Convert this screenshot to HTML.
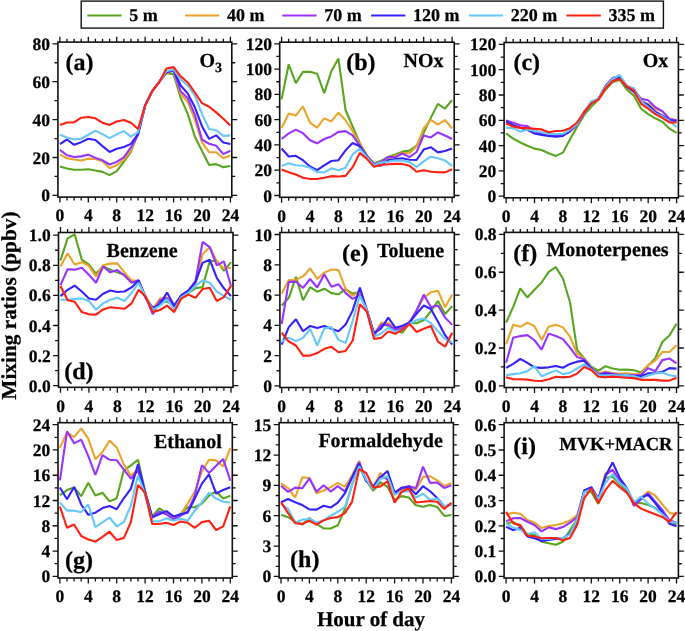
<!DOCTYPE html>
<html><head><meta charset="utf-8"><title>Diurnal mixing ratios</title>
<style>html,body{margin:0;padding:0;background:#fff;} svg text{stroke:#000;stroke-width:0.25px;paint-order:stroke;} body{width:685px;height:631px;overflow:hidden;position:relative;font-family:"Liberation Serif", serif;}</style>
</head><body>
<svg width="685" height="631" viewBox="0 0 685 631" style="position:absolute;left:0;top:0;will-change:transform" text-rendering="geometricPrecision">
<rect x="0" y="0" width="685" height="631" fill="#fff"/>
<polyline points="59.90,166.60 67.00,168.49 74.11,169.82 81.21,169.82 88.32,169.25 95.42,170.58 102.53,171.90 109.63,175.12 116.73,171.14 123.84,161.86 130.94,151.81 138.05,132.87 145.15,105.39 152.25,91.17 159.36,81.70 166.46,73.17 173.57,74.31 180.67,97.81 187.78,113.91 194.88,136.66 201.98,150.87 209.09,165.08 216.19,164.13 223.30,167.16 230.40,166.03" fill="none" stroke="#58a51f" stroke-width="2.1" stroke-linejoin="bevel" stroke-linecap="butt"/>
<polyline points="59.90,154.66 67.00,158.26 74.11,159.58 81.21,160.53 88.32,158.64 95.42,159.02 102.53,161.29 109.63,168.30 116.73,165.27 123.84,159.96 130.94,150.68 138.05,133.81 145.15,105.39 152.25,91.17 159.36,81.70 166.46,72.60 173.57,71.28 180.67,94.02 187.78,101.98 194.88,119.60 201.98,142.34 209.09,152.19 216.19,152.19 223.30,158.26 230.40,155.42" fill="none" stroke="#eba42a" stroke-width="2.1" stroke-linejoin="bevel" stroke-linecap="butt"/>
<polyline points="59.90,149.92 67.00,155.23 74.11,156.93 81.21,156.36 88.32,154.66 95.42,157.88 102.53,160.34 109.63,164.51 116.73,161.86 123.84,157.31 130.94,147.46 138.05,134.76 145.15,105.39 152.25,91.17 159.36,81.70 166.46,72.22 173.57,70.71 180.67,91.17 187.78,98.19 194.88,114.86 201.98,139.50 209.09,143.86 216.19,145.75 223.30,154.09 230.40,150.68" fill="none" stroke="#9933ff" stroke-width="2.1" stroke-linejoin="bevel" stroke-linecap="butt"/>
<polyline points="59.90,144.05 67.00,139.50 74.11,144.80 81.21,142.15 88.32,138.74 95.42,140.07 102.53,146.13 109.63,152.00 116.73,148.78 123.84,147.08 130.94,143.86 138.05,134.19 145.15,105.39 152.25,91.17 159.36,81.70 166.46,72.22 173.57,69.95 180.67,85.49 187.78,93.64 194.88,107.28 201.98,126.23 209.09,138.93 216.19,135.33 223.30,142.53 230.40,144.05" fill="none" stroke="#3322ff" stroke-width="2.1" stroke-linejoin="bevel" stroke-linecap="butt"/>
<polyline points="59.90,134.76 67.00,137.41 74.11,139.50 81.21,138.74 88.32,134.76 95.42,130.59 102.53,134.19 109.63,138.17 116.73,134.38 123.84,131.16 130.94,136.66 138.05,132.11 145.15,105.39 152.25,91.17 159.36,81.70 166.46,71.28 173.57,69.38 180.67,79.43 187.78,85.49 194.88,95.34 201.98,113.91 209.09,129.07 216.19,130.21 223.30,135.90 230.40,135.33" fill="none" stroke="#66c8fa" stroke-width="2.1" stroke-linejoin="bevel" stroke-linecap="butt"/>
<polyline points="59.90,124.91 67.00,122.44 74.11,122.44 81.21,117.70 88.32,116.95 95.42,118.27 102.53,122.82 109.63,124.91 116.73,121.50 123.84,119.98 130.94,122.82 138.05,129.07 145.15,105.39 152.25,90.80 159.36,82.08 166.46,68.44 173.57,67.11 180.67,76.39 187.78,82.46 194.88,92.50 201.98,103.11 209.09,106.71 216.19,112.40 223.30,118.84 230.40,125.47" fill="none" stroke="#ff2010" stroke-width="2.1" stroke-linejoin="bevel" stroke-linecap="butt"/>
<path d="M59.90,42.10V36.70M59.90,197.10V202.50M67.00,42.10V38.70M67.00,197.10V200.50M74.11,42.10V38.70M74.11,197.10V200.50M81.21,42.10V38.70M81.21,197.10V200.50M88.32,42.10V36.70M88.32,197.10V202.50M95.42,42.10V38.70M95.42,197.10V200.50M102.53,42.10V38.70M102.53,197.10V200.50M109.63,42.10V38.70M109.63,197.10V200.50M116.73,42.10V36.70M116.73,197.10V202.50M123.84,42.10V38.70M123.84,197.10V200.50M130.94,42.10V38.70M130.94,197.10V200.50M138.05,42.10V38.70M138.05,197.10V200.50M145.15,42.10V36.70M145.15,197.10V202.50M152.25,42.10V38.70M152.25,197.10V200.50M159.36,42.10V38.70M159.36,197.10V200.50M166.46,42.10V38.70M166.46,197.10V200.50M173.57,42.10V36.70M173.57,197.10V202.50M180.67,42.10V38.70M180.67,197.10V200.50M187.78,42.10V38.70M187.78,197.10V200.50M194.88,42.10V38.70M194.88,197.10V200.50M201.98,42.10V36.70M201.98,197.10V202.50M209.09,42.10V38.70M209.09,197.10V200.50M216.19,42.10V38.70M216.19,197.10V200.50M223.30,42.10V38.70M223.30,197.10V200.50M230.40,42.10V36.70M230.40,197.10V202.50M57.90,195.40H52.50M231.80,195.40H237.20M57.90,176.45H54.50M231.80,176.45H235.20M57.90,157.50H52.50M231.80,157.50H237.20M57.90,138.55H54.50M231.80,138.55H235.20M57.90,119.60H52.50M231.80,119.60H237.20M57.90,100.65H54.50M231.80,100.65H235.20M57.90,81.70H52.50M231.80,81.70H237.20M57.90,62.75H54.50M231.80,62.75H235.20M57.90,43.80H52.50M231.80,43.80H237.20" stroke="#111" stroke-width="1.3" fill="none"/>
<rect x="57.90" y="42.10" width="173.90" height="155.00" fill="none" stroke="#111" stroke-width="1.6"/>
<text x="50.10" y="201.40" text-anchor="end" font-family='"Liberation Serif", serif' font-weight="bold" font-size="17.5">0</text>
<text x="50.10" y="163.50" text-anchor="end" font-family='"Liberation Serif", serif' font-weight="bold" font-size="17.5">20</text>
<text x="50.10" y="125.60" text-anchor="end" font-family='"Liberation Serif", serif' font-weight="bold" font-size="17.5">40</text>
<text x="50.10" y="87.70" text-anchor="end" font-family='"Liberation Serif", serif' font-weight="bold" font-size="17.5">60</text>
<text x="50.10" y="49.80" text-anchor="end" font-family='"Liberation Serif", serif' font-weight="bold" font-size="17.5">80</text>
<text x="59.90" y="221.30" text-anchor="middle" font-family='"Liberation Serif", serif' font-weight="bold" font-size="17.5">0</text>
<text x="88.32" y="221.30" text-anchor="middle" font-family='"Liberation Serif", serif' font-weight="bold" font-size="17.5">4</text>
<text x="116.73" y="221.30" text-anchor="middle" font-family='"Liberation Serif", serif' font-weight="bold" font-size="17.5">8</text>
<text x="145.15" y="221.30" text-anchor="middle" font-family='"Liberation Serif", serif' font-weight="bold" font-size="17.5">12</text>
<text x="173.57" y="221.30" text-anchor="middle" font-family='"Liberation Serif", serif' font-weight="bold" font-size="17.5">16</text>
<text x="201.98" y="221.30" text-anchor="middle" font-family='"Liberation Serif", serif' font-weight="bold" font-size="17.5">20</text>
<text x="230.40" y="221.30" text-anchor="middle" font-family='"Liberation Serif", serif' font-weight="bold" font-size="17.5">24</text>
<polyline points="281.60,99.30 288.70,64.28 295.81,83.12 302.91,71.86 310.02,71.86 317.12,73.76 324.23,93.10 331.33,71.36 338.43,58.59 345.54,110.04 352.64,126.48 359.75,142.91 366.85,155.68 373.95,163.52 381.06,160.74 388.16,157.07 395.27,154.41 402.37,151.63 409.48,150.62 416.58,145.69 423.68,132.80 430.79,117.88 437.89,103.85 445.00,108.53 452.10,100.06" fill="none" stroke="#58a51f" stroke-width="2.1" stroke-linejoin="bevel" stroke-linecap="butt"/>
<polyline points="281.60,128.12 288.70,113.46 295.81,115.60 302.91,106.38 310.02,122.68 317.12,127.61 324.23,118.39 331.33,121.42 338.43,112.70 345.54,120.28 352.64,131.15 359.75,143.54 366.85,155.68 373.95,163.90 381.06,162.00 388.16,158.21 395.27,155.93 402.37,152.90 409.48,153.28 416.58,146.32 423.68,128.50 430.79,119.78 437.89,124.58 445.00,120.03 452.10,128.25" fill="none" stroke="#eba42a" stroke-width="2.1" stroke-linejoin="bevel" stroke-linecap="butt"/>
<polyline points="281.60,138.99 288.70,133.43 295.81,129.64 302.91,133.18 310.02,140.26 317.12,143.29 324.23,138.99 331.33,136.46 338.43,131.91 345.54,131.15 352.64,135.33 359.75,145.69 366.85,156.31 373.95,164.28 381.06,162.00 388.16,156.82 395.27,157.32 402.37,153.53 409.48,157.07 416.58,152.01 423.68,135.45 430.79,137.47 437.89,132.42 445.00,135.45 452.10,138.99" fill="none" stroke="#9933ff" stroke-width="2.1" stroke-linejoin="bevel" stroke-linecap="butt"/>
<polyline points="281.60,148.47 288.70,156.44 295.81,155.81 302.91,160.23 310.02,166.55 317.12,170.22 324.23,165.29 331.33,160.99 338.43,160.23 345.54,150.37 352.64,143.04 359.75,146.32 366.85,156.31 373.95,164.28 381.06,165.67 388.16,159.98 395.27,158.97 402.37,158.33 409.48,159.72 416.58,159.98 423.68,149.61 430.79,147.21 437.89,152.39 445.00,151.00 452.10,148.60" fill="none" stroke="#3322ff" stroke-width="2.1" stroke-linejoin="bevel" stroke-linecap="butt"/>
<polyline points="281.60,165.92 288.70,163.26 295.81,165.29 302.91,165.79 310.02,167.81 317.12,171.99 324.23,172.24 331.33,168.32 338.43,170.22 345.54,167.81 352.64,154.41 359.75,148.73 366.85,157.07 373.95,165.03 381.06,162.63 388.16,161.75 395.27,160.36 402.37,160.61 409.48,162.13 416.58,166.80 423.68,161.37 430.79,156.69 437.89,158.33 445.00,160.61 452.10,165.92" fill="none" stroke="#66c8fa" stroke-width="2.1" stroke-linejoin="bevel" stroke-linecap="butt"/>
<polyline points="281.60,169.46 288.70,172.24 295.81,174.51 302.91,177.80 310.02,179.07 317.12,179.07 324.23,177.80 331.33,176.16 338.43,176.54 345.54,175.91 352.64,167.18 359.75,152.90 366.85,158.84 373.95,166.80 381.06,165.03 388.16,164.28 395.27,163.90 402.37,163.90 409.48,165.67 416.58,171.73 423.68,170.34 430.79,171.73 437.89,172.11 445.00,172.37 452.10,169.33" fill="none" stroke="#ff2010" stroke-width="2.1" stroke-linejoin="bevel" stroke-linecap="butt"/>
<path d="M281.60,42.20V36.80M281.60,197.30V202.70M288.70,42.20V38.80M288.70,197.30V200.70M295.81,42.20V38.80M295.81,197.30V200.70M302.91,42.20V38.80M302.91,197.30V200.70M310.02,42.20V36.80M310.02,197.30V202.70M317.12,42.20V38.80M317.12,197.30V200.70M324.23,42.20V38.80M324.23,197.30V200.70M331.33,42.20V38.80M331.33,197.30V200.70M338.43,42.20V36.80M338.43,197.30V202.70M345.54,42.20V38.80M345.54,197.30V200.70M352.64,42.20V38.80M352.64,197.30V200.70M359.75,42.20V38.80M359.75,197.30V200.70M366.85,42.20V36.80M366.85,197.30V202.70M373.95,42.20V38.80M373.95,197.30V200.70M381.06,42.20V38.80M381.06,197.30V200.70M388.16,42.20V38.80M388.16,197.30V200.70M395.27,42.20V36.80M395.27,197.30V202.70M402.37,42.20V38.80M402.37,197.30V200.70M409.48,42.20V38.80M409.48,197.30V200.70M416.58,42.20V38.80M416.58,197.30V200.70M423.68,42.20V36.80M423.68,197.30V202.70M430.79,42.20V38.80M430.79,197.30V200.70M437.89,42.20V38.80M437.89,197.30V200.70M445.00,42.20V38.80M445.00,197.30V200.70M452.10,42.20V36.80M452.10,197.30V202.70M279.70,195.50H274.30M454.20,195.50H459.60M279.70,182.86H276.30M454.20,182.86H457.60M279.70,170.22H274.30M454.20,170.22H459.60M279.70,157.57H276.30M454.20,157.57H457.60M279.70,144.93H274.30M454.20,144.93H459.60M279.70,132.29H276.30M454.20,132.29H457.60M279.70,119.65H274.30M454.20,119.65H459.60M279.70,107.01H276.30M454.20,107.01H457.60M279.70,94.37H274.30M454.20,94.37H459.60M279.70,81.73H276.30M454.20,81.73H457.60M279.70,69.08H274.30M454.20,69.08H459.60M279.70,56.44H276.30M454.20,56.44H457.60M279.70,43.80H274.30M454.20,43.80H459.60" stroke="#111" stroke-width="1.3" fill="none"/>
<rect x="279.70" y="42.20" width="174.50" height="155.10" fill="none" stroke="#111" stroke-width="1.6"/>
<text x="271.90" y="201.50" text-anchor="end" font-family='"Liberation Serif", serif' font-weight="bold" font-size="17.5">0</text>
<text x="271.90" y="176.22" text-anchor="end" font-family='"Liberation Serif", serif' font-weight="bold" font-size="17.5">20</text>
<text x="271.90" y="150.93" text-anchor="end" font-family='"Liberation Serif", serif' font-weight="bold" font-size="17.5">40</text>
<text x="271.90" y="125.65" text-anchor="end" font-family='"Liberation Serif", serif' font-weight="bold" font-size="17.5">60</text>
<text x="271.90" y="100.37" text-anchor="end" font-family='"Liberation Serif", serif' font-weight="bold" font-size="17.5">80</text>
<text x="271.90" y="75.08" text-anchor="end" font-family='"Liberation Serif", serif' font-weight="bold" font-size="17.5">100</text>
<text x="271.90" y="49.80" text-anchor="end" font-family='"Liberation Serif", serif' font-weight="bold" font-size="17.5">120</text>
<text x="281.60" y="221.50" text-anchor="middle" font-family='"Liberation Serif", serif' font-weight="bold" font-size="17.5">0</text>
<text x="310.02" y="221.50" text-anchor="middle" font-family='"Liberation Serif", serif' font-weight="bold" font-size="17.5">4</text>
<text x="338.43" y="221.50" text-anchor="middle" font-family='"Liberation Serif", serif' font-weight="bold" font-size="17.5">8</text>
<text x="366.85" y="221.50" text-anchor="middle" font-family='"Liberation Serif", serif' font-weight="bold" font-size="17.5">12</text>
<text x="395.27" y="221.50" text-anchor="middle" font-family='"Liberation Serif", serif' font-weight="bold" font-size="17.5">16</text>
<text x="423.68" y="221.50" text-anchor="middle" font-family='"Liberation Serif", serif' font-weight="bold" font-size="17.5">20</text>
<text x="452.10" y="221.50" text-anchor="middle" font-family='"Liberation Serif", serif' font-weight="bold" font-size="17.5">24</text>
<polyline points="506.10,133.46 513.20,138.63 520.31,142.54 527.41,145.69 534.52,148.60 541.62,149.99 548.73,153.27 555.83,155.91 562.93,152.63 570.04,139.26 577.14,126.64 584.25,114.91 591.35,106.46 598.45,99.64 605.56,89.67 612.66,81.98 619.77,79.96 626.87,89.67 633.98,95.73 641.08,108.73 648.18,114.15 655.29,118.31 662.39,121.84 669.50,128.66 676.60,132.95" fill="none" stroke="#58a51f" stroke-width="2.1" stroke-linejoin="bevel" stroke-linecap="butt"/>
<polyline points="506.10,121.60 513.20,124.75 520.31,127.27 527.41,129.17 534.52,132.95 541.62,134.22 548.73,136.10 555.83,135.73 562.93,134.85 570.04,131.69 577.14,124.75 584.25,112.76 591.35,103.30 598.45,99.52 605.56,86.90 612.66,79.34 619.77,77.44 626.87,86.27 633.98,91.32 641.08,101.16 648.18,103.93 655.29,108.98 662.39,111.51 669.50,118.44 676.60,120.34" fill="none" stroke="#eba42a" stroke-width="2.1" stroke-linejoin="bevel" stroke-linecap="butt"/>
<polyline points="506.10,120.46 513.20,122.73 520.31,125.26 527.41,126.14 534.52,131.07 541.62,133.46 548.73,134.85 555.83,135.97 562.93,134.85 570.04,131.07 577.14,124.75 584.25,112.14 591.35,102.68 598.45,98.88 605.56,85.89 612.66,77.82 619.77,76.68 626.87,85.89 633.98,89.67 641.08,98.88 648.18,100.28 655.29,107.22 662.39,111.13 669.50,119.20 676.60,120.21" fill="none" stroke="#9933ff" stroke-width="2.1" stroke-linejoin="bevel" stroke-linecap="butt"/>
<polyline points="506.10,121.48 513.20,125.13 520.31,127.65 527.41,129.93 534.52,133.46 541.62,134.85 548.73,135.86 555.83,136.73 562.93,135.97 570.04,131.07 577.14,124.12 584.25,112.14 591.35,102.68 598.45,98.88 605.56,86.27 612.66,79.34 619.77,77.44 626.87,86.90 633.98,91.95 641.08,101.16 648.18,104.94 655.29,111.76 662.39,115.67 669.50,120.21 676.60,120.97" fill="none" stroke="#3322ff" stroke-width="2.1" stroke-linejoin="bevel" stroke-linecap="butt"/>
<polyline points="506.10,127.65 513.20,128.16 520.31,131.69 527.41,129.42 534.52,131.07 541.62,132.32 548.73,133.96 555.83,133.96 562.93,133.96 570.04,129.80 577.14,124.12 584.25,111.51 591.35,101.16 598.45,98.88 605.56,86.90 612.66,78.96 619.77,75.04 626.87,85.89 633.98,88.17 641.08,101.16 648.18,107.22 655.29,113.39 662.39,116.56 669.50,120.97 676.60,127.14" fill="none" stroke="#66c8fa" stroke-width="2.1" stroke-linejoin="bevel" stroke-linecap="butt"/>
<polyline points="506.10,123.49 513.20,126.51 520.31,127.90 527.41,128.16 534.52,128.79 541.62,129.42 548.73,132.32 555.83,131.07 562.93,130.81 570.04,128.16 577.14,122.48 584.25,111.76 591.35,103.42 598.45,99.64 605.56,88.17 612.66,80.97 619.77,78.96 626.87,86.52 633.98,90.43 641.08,103.80 648.18,108.73 655.29,114.15 662.39,117.93 669.50,122.48 676.60,122.48" fill="none" stroke="#ff2010" stroke-width="2.1" stroke-linejoin="bevel" stroke-linecap="butt"/>
<path d="M506.10,42.50V37.10M506.10,197.80V203.20M513.20,42.50V39.10M513.20,197.80V201.20M520.31,42.50V39.10M520.31,197.80V201.20M527.41,42.50V39.10M527.41,197.80V201.20M534.52,42.50V37.10M534.52,197.80V203.20M541.62,42.50V39.10M541.62,197.80V201.20M548.73,42.50V39.10M548.73,197.80V201.20M555.83,42.50V39.10M555.83,197.80V201.20M562.93,42.50V37.10M562.93,197.80V203.20M570.04,42.50V39.10M570.04,197.80V201.20M577.14,42.50V39.10M577.14,197.80V201.20M584.25,42.50V39.10M584.25,197.80V201.20M591.35,42.50V37.10M591.35,197.80V203.20M598.45,42.50V39.10M598.45,197.80V201.20M605.56,42.50V39.10M605.56,197.80V201.20M612.66,42.50V39.10M612.66,197.80V201.20M619.77,42.50V37.10M619.77,197.80V203.20M626.87,42.50V39.10M626.87,197.80V201.20M633.98,42.50V39.10M633.98,197.80V201.20M641.08,42.50V39.10M641.08,197.80V201.20M648.18,42.50V37.10M648.18,197.80V203.20M655.29,42.50V39.10M655.29,197.80V201.20M662.39,42.50V39.10M662.39,197.80V201.20M669.50,42.50V39.10M669.50,197.80V201.20M676.60,42.50V37.10M676.60,197.80V203.20M504.10,196.20H498.70M678.40,196.20H683.80M504.10,183.55H500.70M678.40,183.55H681.80M504.10,170.90H498.70M678.40,170.90H683.80M504.10,158.25H500.70M678.40,158.25H681.80M504.10,145.60H498.70M678.40,145.60H683.80M504.10,132.95H500.70M678.40,132.95H681.80M504.10,120.30H498.70M678.40,120.30H683.80M504.10,107.65H500.70M678.40,107.65H681.80M504.10,95.00H498.70M678.40,95.00H683.80M504.10,82.35H500.70M678.40,82.35H681.80M504.10,69.70H498.70M678.40,69.70H683.80M504.10,57.05H500.70M678.40,57.05H681.80M504.10,44.40H498.70M678.40,44.40H683.80" stroke="#111" stroke-width="1.3" fill="none"/>
<rect x="504.10" y="42.50" width="174.30" height="155.30" fill="none" stroke="#111" stroke-width="1.6"/>
<text x="496.30" y="202.20" text-anchor="end" font-family='"Liberation Serif", serif' font-weight="bold" font-size="17.5">0</text>
<text x="496.30" y="176.90" text-anchor="end" font-family='"Liberation Serif", serif' font-weight="bold" font-size="17.5">20</text>
<text x="496.30" y="151.60" text-anchor="end" font-family='"Liberation Serif", serif' font-weight="bold" font-size="17.5">40</text>
<text x="496.30" y="126.30" text-anchor="end" font-family='"Liberation Serif", serif' font-weight="bold" font-size="17.5">60</text>
<text x="496.30" y="101.00" text-anchor="end" font-family='"Liberation Serif", serif' font-weight="bold" font-size="17.5">80</text>
<text x="496.30" y="75.70" text-anchor="end" font-family='"Liberation Serif", serif' font-weight="bold" font-size="17.5">100</text>
<text x="496.30" y="50.40" text-anchor="end" font-family='"Liberation Serif", serif' font-weight="bold" font-size="17.5">120</text>
<text x="506.10" y="222.00" text-anchor="middle" font-family='"Liberation Serif", serif' font-weight="bold" font-size="17.5">0</text>
<text x="534.52" y="222.00" text-anchor="middle" font-family='"Liberation Serif", serif' font-weight="bold" font-size="17.5">4</text>
<text x="562.93" y="222.00" text-anchor="middle" font-family='"Liberation Serif", serif' font-weight="bold" font-size="17.5">8</text>
<text x="591.35" y="222.00" text-anchor="middle" font-family='"Liberation Serif", serif' font-weight="bold" font-size="17.5">12</text>
<text x="619.77" y="222.00" text-anchor="middle" font-family='"Liberation Serif", serif' font-weight="bold" font-size="17.5">16</text>
<text x="648.18" y="222.00" text-anchor="middle" font-family='"Liberation Serif", serif' font-weight="bold" font-size="17.5">20</text>
<text x="676.60" y="222.00" text-anchor="middle" font-family='"Liberation Serif", serif' font-weight="bold" font-size="17.5">24</text>
<polyline points="60.50,260.48 67.60,238.36 74.71,234.45 81.81,259.73 88.92,264.55 96.02,273.58 103.12,266.50 110.23,269.66 117.33,272.37 124.44,274.78 131.54,281.10 138.65,281.86 145.75,297.06 152.85,308.04 159.96,300.97 167.06,301.72 174.17,304.88 181.27,297.06 188.38,292.99 195.48,288.33 202.58,287.12 209.69,261.39 216.79,260.48 223.90,270.87 231.00,262.14" fill="none" stroke="#58a51f" stroke-width="2.1" stroke-linejoin="bevel" stroke-linecap="butt"/>
<polyline points="60.50,266.50 67.60,253.41 74.71,264.55 81.81,262.14 88.92,266.05 96.02,276.44 103.12,265.30 110.23,263.64 117.33,263.34 124.44,272.37 131.54,280.35 138.65,281.10 145.75,297.06 152.85,308.79 159.96,298.56 167.06,297.36 174.17,305.63 181.27,295.40 188.38,291.49 195.48,284.26 202.58,254.16 209.69,247.09 216.79,261.39 223.90,268.46 231.00,267.71" fill="none" stroke="#eba42a" stroke-width="2.1" stroke-linejoin="bevel" stroke-linecap="butt"/>
<polyline points="60.50,285.17 67.60,269.21 74.71,269.66 81.81,267.71 88.92,274.78 96.02,282.76 103.12,266.50 110.23,272.37 117.33,270.12 124.44,275.53 131.54,282.76 138.65,280.35 145.75,297.06 152.85,314.36 159.96,300.22 167.06,298.26 174.17,306.54 181.27,295.40 188.38,290.58 195.48,281.10 202.58,241.82 209.69,247.09 216.79,265.30 223.90,261.39 231.00,285.92" fill="none" stroke="#9933ff" stroke-width="2.1" stroke-linejoin="bevel" stroke-linecap="butt"/>
<polyline points="60.50,296.15 67.60,289.83 74.71,285.62 81.81,291.49 88.92,298.56 96.02,299.76 103.12,293.74 110.23,290.58 117.33,291.94 124.44,291.49 131.54,287.42 138.65,280.35 145.75,298.41 152.85,308.04 159.96,304.13 167.06,292.54 174.17,305.63 181.27,295.40 188.38,290.58 195.48,282.01 202.58,262.89 209.69,259.73 216.79,277.94 223.90,288.33 231.00,296.15" fill="none" stroke="#3322ff" stroke-width="2.1" stroke-linejoin="bevel" stroke-linecap="butt"/>
<polyline points="60.50,299.76 67.60,299.76 74.71,298.86 81.81,298.56 88.92,300.97 96.02,309.70 103.12,303.38 110.23,299.76 117.33,297.81 124.44,300.97 131.54,292.99 138.65,282.76 145.75,297.06 152.85,309.70 159.96,305.63 167.06,299.31 174.17,309.70 181.27,297.06 188.38,292.99 195.48,285.92 202.58,280.35 209.69,282.76 216.79,291.49 223.90,296.15 231.00,299.76" fill="none" stroke="#66c8fa" stroke-width="2.1" stroke-linejoin="bevel" stroke-linecap="butt"/>
<polyline points="60.50,285.92 67.60,300.22 74.71,301.72 81.81,312.11 88.92,314.36 96.02,314.66 103.12,309.40 110.23,307.29 117.33,308.04 124.44,308.79 131.54,303.38 138.65,289.83 145.75,297.06 152.85,312.11 159.96,310.00 167.06,305.63 174.17,312.11 181.27,298.56 188.38,294.65 195.48,297.81 202.58,289.08 209.69,287.72 216.79,300.97 223.90,297.06 231.00,285.92" fill="none" stroke="#ff2010" stroke-width="2.1" stroke-linejoin="bevel" stroke-linecap="butt"/>
<path d="M60.50,232.50V227.10M60.50,387.30V392.70M67.60,232.50V229.10M67.60,387.30V390.70M74.71,232.50V229.10M74.71,387.30V390.70M81.81,232.50V229.10M81.81,387.30V390.70M88.92,232.50V227.10M88.92,387.30V392.70M96.02,232.50V229.10M96.02,387.30V390.70M103.12,232.50V229.10M103.12,387.30V390.70M110.23,232.50V229.10M110.23,387.30V390.70M117.33,232.50V227.10M117.33,387.30V392.70M124.44,232.50V229.10M124.44,387.30V390.70M131.54,232.50V229.10M131.54,387.30V390.70M138.65,232.50V229.10M138.65,387.30V390.70M145.75,232.50V227.10M145.75,387.30V392.70M152.85,232.50V229.10M152.85,387.30V390.70M159.96,232.50V229.10M159.96,387.30V390.70M167.06,232.50V229.10M167.06,387.30V390.70M174.17,232.50V227.10M174.17,387.30V392.70M181.27,232.50V229.10M181.27,387.30V390.70M188.38,232.50V229.10M188.38,387.30V390.70M195.48,232.50V229.10M195.48,387.30V390.70M202.58,232.50V227.10M202.58,387.30V392.70M209.69,232.50V229.10M209.69,387.30V390.70M216.79,232.50V229.10M216.79,387.30V390.70M223.90,232.50V229.10M223.90,387.30V390.70M231.00,232.50V227.10M231.00,387.30V392.70M58.50,385.70H53.10M233.00,385.70H238.40M58.50,370.65H55.10M233.00,370.65H236.40M58.50,355.60H53.10M233.00,355.60H238.40M58.50,340.55H55.10M233.00,340.55H236.40M58.50,325.50H53.10M233.00,325.50H238.40M58.50,310.45H55.10M233.00,310.45H236.40M58.50,295.40H53.10M233.00,295.40H238.40M58.50,280.35H55.10M233.00,280.35H236.40M58.50,265.30H53.10M233.00,265.30H238.40M58.50,250.25H55.10M233.00,250.25H236.40M58.50,235.20H53.10M233.00,235.20H238.40" stroke="#111" stroke-width="1.3" fill="none"/>
<rect x="58.50" y="232.50" width="174.50" height="154.80" fill="none" stroke="#111" stroke-width="1.6"/>
<text x="50.70" y="391.70" text-anchor="end" font-family='"Liberation Serif", serif' font-weight="bold" font-size="17.5">0.0</text>
<text x="50.70" y="361.60" text-anchor="end" font-family='"Liberation Serif", serif' font-weight="bold" font-size="17.5">0.2</text>
<text x="50.70" y="331.50" text-anchor="end" font-family='"Liberation Serif", serif' font-weight="bold" font-size="17.5">0.4</text>
<text x="50.70" y="301.40" text-anchor="end" font-family='"Liberation Serif", serif' font-weight="bold" font-size="17.5">0.6</text>
<text x="50.70" y="271.30" text-anchor="end" font-family='"Liberation Serif", serif' font-weight="bold" font-size="17.5">0.8</text>
<text x="50.70" y="241.20" text-anchor="end" font-family='"Liberation Serif", serif' font-weight="bold" font-size="17.5">1.0</text>
<text x="60.50" y="411.70" text-anchor="middle" font-family='"Liberation Serif", serif' font-weight="bold" font-size="17.5">0</text>
<text x="88.92" y="411.70" text-anchor="middle" font-family='"Liberation Serif", serif' font-weight="bold" font-size="17.5">4</text>
<text x="117.33" y="411.70" text-anchor="middle" font-family='"Liberation Serif", serif' font-weight="bold" font-size="17.5">8</text>
<text x="145.75" y="411.70" text-anchor="middle" font-family='"Liberation Serif", serif' font-weight="bold" font-size="17.5">12</text>
<text x="174.17" y="411.70" text-anchor="middle" font-family='"Liberation Serif", serif' font-weight="bold" font-size="17.5">16</text>
<text x="202.58" y="411.70" text-anchor="middle" font-family='"Liberation Serif", serif' font-weight="bold" font-size="17.5">20</text>
<text x="231.00" y="411.70" text-anchor="middle" font-family='"Liberation Serif", serif' font-weight="bold" font-size="17.5">24</text>
<polyline points="281.70,305.51 288.80,297.79 295.91,276.89 303.01,300.21 310.12,287.19 317.22,291.73 324.32,288.70 331.43,293.09 338.53,294.30 345.64,289.16 352.74,293.55 359.85,292.03 366.95,310.20 374.05,333.52 381.16,324.58 388.26,325.64 395.37,329.58 402.47,332.76 409.57,322.92 416.68,323.22 423.78,320.04 430.89,311.26 437.99,300.96 445.10,313.99 452.20,306.11" fill="none" stroke="#58a51f" stroke-width="2.1" stroke-linejoin="bevel" stroke-linecap="butt"/>
<polyline points="281.70,293.85 288.80,280.07 295.91,280.07 303.01,276.44 310.12,268.41 317.22,279.01 324.32,272.65 331.43,269.47 338.53,270.08 345.64,289.16 352.74,295.82 359.85,291.43 366.95,310.20 374.05,334.42 381.16,322.92 388.26,323.22 395.37,328.37 402.47,327.16 409.57,321.71 416.68,309.75 423.78,297.79 430.89,292.33 437.99,290.67 445.10,307.32 452.20,294.61" fill="none" stroke="#eba42a" stroke-width="2.1" stroke-linejoin="bevel" stroke-linecap="butt"/>
<polyline points="281.70,323.98 288.80,281.89 295.91,281.59 303.01,287.94 310.12,279.01 317.22,287.49 324.32,274.32 331.43,286.73 338.53,284.31 345.64,293.09 352.74,298.85 359.85,295.06 366.95,310.20 374.05,335.18 381.16,324.89 388.26,324.89 395.37,329.58 402.47,328.37 409.57,322.46 416.68,310.50 423.78,294.61 430.89,307.32 437.99,305.51 445.10,317.62 452.20,324.89" fill="none" stroke="#9933ff" stroke-width="2.1" stroke-linejoin="bevel" stroke-linecap="butt"/>
<polyline points="281.70,344.72 288.80,327.16 295.91,319.28 303.01,331.24 310.12,325.95 317.22,328.07 324.32,326.10 331.43,328.82 338.53,331.24 345.64,324.58 352.74,310.35 359.85,287.64 366.95,310.20 374.05,333.21 381.16,328.37 388.26,317.62 395.37,327.76 402.47,325.64 409.57,322.46 416.68,313.68 423.78,305.51 430.89,308.99 437.99,321.71 445.10,335.18 452.20,344.72" fill="none" stroke="#3322ff" stroke-width="2.1" stroke-linejoin="bevel" stroke-linecap="butt"/>
<polyline points="281.70,341.54 288.80,337.60 295.91,341.09 303.01,337.91 310.12,328.82 317.22,345.48 324.32,328.37 331.43,327.16 338.53,339.87 345.64,343.05 352.74,320.80 359.85,295.82 366.95,310.20 374.05,336.54 381.16,333.52 388.26,327.76 395.37,332.00 402.47,329.58 409.57,323.98 416.68,320.04 423.78,318.53 430.89,323.22 437.99,331.24 445.10,339.12 452.20,342.30" fill="none" stroke="#66c8fa" stroke-width="2.1" stroke-linejoin="bevel" stroke-linecap="butt"/>
<polyline points="281.70,332.76 288.80,341.54 295.91,345.48 303.01,355.62 310.12,355.62 317.22,353.05 324.32,348.81 331.43,346.84 338.53,352.29 345.64,350.93 352.74,340.48 359.85,304.30 366.95,311.71 374.05,338.97 381.16,337.91 388.26,331.55 395.37,333.82 402.47,329.58 409.57,323.98 416.68,332.00 423.78,328.82 430.89,325.95 437.99,341.54 445.10,346.69 452.20,332.76" fill="none" stroke="#ff2010" stroke-width="2.1" stroke-linejoin="bevel" stroke-linecap="butt"/>
<path d="M281.70,232.50V227.10M281.70,387.50V392.90M288.80,232.50V229.10M288.80,387.50V390.90M295.91,232.50V229.10M295.91,387.50V390.90M303.01,232.50V229.10M303.01,387.50V390.90M310.12,232.50V227.10M310.12,387.50V392.90M317.22,232.50V229.10M317.22,387.50V390.90M324.32,232.50V229.10M324.32,387.50V390.90M331.43,232.50V229.10M331.43,387.50V390.90M338.53,232.50V227.10M338.53,387.50V392.90M345.64,232.50V229.10M345.64,387.50V390.90M352.74,232.50V229.10M352.74,387.50V390.90M359.85,232.50V229.10M359.85,387.50V390.90M366.95,232.50V227.10M366.95,387.50V392.90M374.05,232.50V229.10M374.05,387.50V390.90M381.16,232.50V229.10M381.16,387.50V390.90M388.26,232.50V229.10M388.26,387.50V390.90M395.37,232.50V227.10M395.37,387.50V392.90M402.47,232.50V229.10M402.47,387.50V390.90M409.57,232.50V229.10M409.57,387.50V390.90M416.68,232.50V229.10M416.68,387.50V390.90M423.78,232.50V227.10M423.78,387.50V392.90M430.89,232.50V229.10M430.89,387.50V390.90M437.99,232.50V229.10M437.99,387.50V390.90M445.10,232.50V229.10M445.10,387.50V390.90M452.20,232.50V227.10M452.20,387.50V392.90M279.90,385.90H274.50M454.30,385.90H459.70M279.90,370.76H276.50M454.30,370.76H457.70M279.90,355.62H274.50M454.30,355.62H459.70M279.90,340.48H276.50M454.30,340.48H457.70M279.90,325.34H274.50M454.30,325.34H459.70M279.90,310.20H276.50M454.30,310.20H457.70M279.90,295.06H274.50M454.30,295.06H459.70M279.90,279.92H276.50M454.30,279.92H457.70M279.90,264.78H274.50M454.30,264.78H459.70M279.90,249.64H276.50M454.30,249.64H457.70M279.90,234.50H274.50M454.30,234.50H459.70" stroke="#111" stroke-width="1.3" fill="none"/>
<rect x="279.90" y="232.50" width="174.40" height="155.00" fill="none" stroke="#111" stroke-width="1.6"/>
<text x="272.10" y="391.90" text-anchor="end" font-family='"Liberation Serif", serif' font-weight="bold" font-size="17.5">0</text>
<text x="272.10" y="361.62" text-anchor="end" font-family='"Liberation Serif", serif' font-weight="bold" font-size="17.5">2</text>
<text x="272.10" y="331.34" text-anchor="end" font-family='"Liberation Serif", serif' font-weight="bold" font-size="17.5">4</text>
<text x="272.10" y="301.06" text-anchor="end" font-family='"Liberation Serif", serif' font-weight="bold" font-size="17.5">6</text>
<text x="272.10" y="270.78" text-anchor="end" font-family='"Liberation Serif", serif' font-weight="bold" font-size="17.5">8</text>
<text x="272.10" y="240.50" text-anchor="end" font-family='"Liberation Serif", serif' font-weight="bold" font-size="17.5">10</text>
<text x="281.70" y="411.90" text-anchor="middle" font-family='"Liberation Serif", serif' font-weight="bold" font-size="17.5">0</text>
<text x="310.12" y="411.90" text-anchor="middle" font-family='"Liberation Serif", serif' font-weight="bold" font-size="17.5">4</text>
<text x="338.53" y="411.90" text-anchor="middle" font-family='"Liberation Serif", serif' font-weight="bold" font-size="17.5">8</text>
<text x="366.95" y="411.90" text-anchor="middle" font-family='"Liberation Serif", serif' font-weight="bold" font-size="17.5">12</text>
<text x="395.37" y="411.90" text-anchor="middle" font-family='"Liberation Serif", serif' font-weight="bold" font-size="17.5">16</text>
<text x="423.78" y="411.90" text-anchor="middle" font-family='"Liberation Serif", serif' font-weight="bold" font-size="17.5">20</text>
<text x="452.20" y="411.90" text-anchor="middle" font-family='"Liberation Serif", serif' font-weight="bold" font-size="17.5">24</text>
<polyline points="506.10,322.65 513.20,306.93 520.30,288.37 527.40,297.46 534.50,289.70 541.60,282.50 548.70,271.90 555.80,267.16 562.90,278.52 570.00,302.20 577.10,349.92 584.20,358.44 591.30,366.58 598.40,370.75 605.50,366.20 612.60,368.48 619.70,369.80 626.80,369.61 633.90,370.18 641.00,372.45 648.10,365.45 655.20,358.44 662.30,341.96 669.40,335.53 676.50,323.78" fill="none" stroke="#58a51f" stroke-width="2.1" stroke-linejoin="bevel" stroke-linecap="butt"/>
<polyline points="506.10,344.24 513.20,324.73 520.30,326.81 527.40,322.65 534.50,326.25 541.60,339.88 548.70,326.81 555.80,324.73 562.90,327.38 570.00,336.66 577.10,353.71 584.20,359.01 591.30,367.53 598.40,373.40 605.50,371.89 612.60,373.02 619.70,373.78 626.80,373.40 633.90,374.16 641.00,374.16 648.10,365.45 655.20,360.52 662.30,352.00 669.40,352.00 676.50,345.18" fill="none" stroke="#eba42a" stroke-width="2.1" stroke-linejoin="bevel" stroke-linecap="butt"/>
<polyline points="506.10,362.80 513.20,337.80 520.30,336.09 527.40,335.15 534.50,340.26 541.60,349.54 548.70,333.63 555.80,336.09 562.90,339.12 570.00,347.65 577.10,357.12 584.20,359.58 591.30,368.10 598.40,374.16 605.50,372.64 612.60,373.78 619.70,374.92 626.80,374.92 633.90,375.29 641.00,374.92 648.10,368.10 655.20,371.32 662.30,360.14 669.40,358.44 676.50,363.36" fill="none" stroke="#9933ff" stroke-width="2.1" stroke-linejoin="bevel" stroke-linecap="butt"/>
<polyline points="506.10,367.91 513.20,363.93 520.30,358.82 527.40,362.80 534.50,367.34 541.60,367.91 548.70,367.34 555.80,366.02 562.90,367.72 570.00,363.93 577.10,361.66 584.20,360.71 591.30,368.48 598.40,374.92 605.50,373.78 612.60,374.54 619.70,375.48 626.80,375.11 633.90,376.24 641.00,376.24 648.10,373.40 655.20,373.02 662.30,371.89 669.40,368.10 676.50,368.67" fill="none" stroke="#3322ff" stroke-width="2.1" stroke-linejoin="bevel" stroke-linecap="butt"/>
<polyline points="506.10,375.11 513.20,374.16 520.30,373.21 527.40,371.13 534.50,366.02 541.60,376.24 548.70,373.21 555.80,370.37 562.90,374.16 570.00,372.64 577.10,368.48 584.20,364.31 591.30,369.42 598.40,375.11 605.50,375.29 612.60,375.11 619.70,375.48 626.80,374.92 633.90,376.24 641.00,378.14 648.10,375.48 655.20,373.40 662.30,372.64 669.40,375.29 676.50,376.24" fill="none" stroke="#66c8fa" stroke-width="2.1" stroke-linejoin="bevel" stroke-linecap="butt"/>
<polyline points="506.10,377.19 513.20,379.27 520.30,379.27 527.40,379.65 534.50,380.79 541.60,380.98 548.70,379.27 555.80,376.81 562.90,377.38 570.00,376.81 577.10,373.59 584.20,366.96 591.30,369.99 598.40,376.81 605.50,377.19 612.60,376.62 619.70,377.19 626.80,377.76 633.90,378.14 641.00,379.84 648.10,379.84 655.20,379.84 662.30,380.60 669.40,380.60 676.50,377.76" fill="none" stroke="#ff2010" stroke-width="2.1" stroke-linejoin="bevel" stroke-linecap="butt"/>
<path d="M506.10,232.40V227.00M506.10,387.50V392.90M513.20,232.40V229.00M513.20,387.50V390.90M520.30,232.40V229.00M520.30,387.50V390.90M527.40,232.40V229.00M527.40,387.50V390.90M534.50,232.40V227.00M534.50,387.50V392.90M541.60,232.40V229.00M541.60,387.50V390.90M548.70,232.40V229.00M548.70,387.50V390.90M555.80,232.40V229.00M555.80,387.50V390.90M562.90,232.40V227.00M562.90,387.50V392.90M570.00,232.40V229.00M570.00,387.50V390.90M577.10,232.40V229.00M577.10,387.50V390.90M584.20,232.40V229.00M584.20,387.50V390.90M591.30,232.40V227.00M591.30,387.50V392.90M598.40,232.40V229.00M598.40,387.50V390.90M605.50,232.40V229.00M605.50,387.50V390.90M612.60,232.40V229.00M612.60,387.50V390.90M619.70,232.40V227.00M619.70,387.50V392.90M626.80,232.40V229.00M626.80,387.50V390.90M633.90,232.40V229.00M633.90,387.50V390.90M641.00,232.40V229.00M641.00,387.50V390.90M648.10,232.40V227.00M648.10,387.50V392.90M655.20,232.40V229.00M655.20,387.50V390.90M662.30,232.40V229.00M662.30,387.50V390.90M669.40,232.40V229.00M669.40,387.50V390.90M676.50,232.40V227.00M676.50,387.50V392.90M504.30,385.90H498.90M678.40,385.90H683.80M504.30,366.96H500.90M678.40,366.96H681.80M504.30,348.02H498.90M678.40,348.02H683.80M504.30,329.09H500.90M678.40,329.09H681.80M504.30,310.15H498.90M678.40,310.15H683.80M504.30,291.21H500.90M678.40,291.21H681.80M504.30,272.27H498.90M678.40,272.27H683.80M504.30,253.34H500.90M678.40,253.34H681.80M504.30,234.40H498.90M678.40,234.40H683.80" stroke="#111" stroke-width="1.3" fill="none"/>
<rect x="504.30" y="232.40" width="174.10" height="155.10" fill="none" stroke="#111" stroke-width="1.6"/>
<text x="496.50" y="391.90" text-anchor="end" font-family='"Liberation Serif", serif' font-weight="bold" font-size="17.5">0.0</text>
<text x="496.50" y="354.02" text-anchor="end" font-family='"Liberation Serif", serif' font-weight="bold" font-size="17.5">0.2</text>
<text x="496.50" y="316.15" text-anchor="end" font-family='"Liberation Serif", serif' font-weight="bold" font-size="17.5">0.4</text>
<text x="496.50" y="278.27" text-anchor="end" font-family='"Liberation Serif", serif' font-weight="bold" font-size="17.5">0.6</text>
<text x="496.50" y="240.40" text-anchor="end" font-family='"Liberation Serif", serif' font-weight="bold" font-size="17.5">0.8</text>
<text x="506.10" y="411.90" text-anchor="middle" font-family='"Liberation Serif", serif' font-weight="bold" font-size="17.5">0</text>
<text x="534.50" y="411.90" text-anchor="middle" font-family='"Liberation Serif", serif' font-weight="bold" font-size="17.5">4</text>
<text x="562.90" y="411.90" text-anchor="middle" font-family='"Liberation Serif", serif' font-weight="bold" font-size="17.5">8</text>
<text x="591.30" y="411.90" text-anchor="middle" font-family='"Liberation Serif", serif' font-weight="bold" font-size="17.5">12</text>
<text x="619.70" y="411.90" text-anchor="middle" font-family='"Liberation Serif", serif' font-weight="bold" font-size="17.5">16</text>
<text x="648.10" y="411.90" text-anchor="middle" font-family='"Liberation Serif", serif' font-weight="bold" font-size="17.5">20</text>
<text x="676.50" y="411.90" text-anchor="middle" font-family='"Liberation Serif", serif' font-weight="bold" font-size="17.5">24</text>
<polyline points="59.90,495.19 67.00,490.08 74.10,487.42 81.20,496.20 88.30,482.81 95.40,495.57 102.50,492.73 109.60,501.38 116.70,498.29 123.80,470.50 130.90,465.32 138.00,459.82 145.10,491.02 152.20,516.42 159.30,508.33 166.40,512.88 173.50,518.31 180.60,514.02 187.70,507.20 194.80,507.20 201.90,503.60 209.00,495.70 216.10,491.53 223.20,498.60 230.30,495.70" fill="none" stroke="#58a51f" stroke-width="2.1" stroke-linejoin="bevel" stroke-linecap="butt"/>
<polyline points="59.90,447.82 67.00,432.41 74.10,437.08 81.20,428.30 88.30,438.60 95.40,459.19 102.50,451.92 109.60,440.62 116.70,447.44 123.80,464.31 130.90,475.61 138.00,469.55 145.10,494.18 152.20,517.55 159.30,512.50 166.40,513.13 173.50,517.55 180.60,514.40 187.70,503.60 194.80,491.53 201.90,471.51 209.00,459.82 216.10,460.39 223.20,466.52 230.30,448.07" fill="none" stroke="#eba42a" stroke-width="2.1" stroke-linejoin="bevel" stroke-linecap="butt"/>
<polyline points="59.90,480.41 67.00,431.33 74.10,443.33 81.20,439.61 88.30,456.09 95.40,474.98 102.50,455.02 109.60,459.82 116.70,460.20 123.80,469.55 130.90,478.71 138.00,470.50 145.10,494.18 152.20,517.87 159.30,511.43 166.40,514.33 173.50,519.32 180.60,515.72 187.70,511.43 194.80,495.70 201.90,465.13 209.00,472.90 216.10,465.82 223.20,458.94 230.30,480.79" fill="none" stroke="#9933ff" stroke-width="2.1" stroke-linejoin="bevel" stroke-linecap="butt"/>
<polyline points="59.90,487.42 67.00,499.30 74.10,486.98 81.20,504.48 88.30,514.78 95.40,512.69 102.50,508.02 109.60,505.93 116.70,509.22 123.80,498.29 130.90,488.62 138.00,464.31 145.10,492.29 152.20,517.11 159.30,514.33 166.40,511.11 173.50,516.42 180.60,514.33 187.70,512.63 194.80,498.60 201.90,483.63 209.00,474.29 216.10,493.61 223.20,490.01 230.30,487.23" fill="none" stroke="#3322ff" stroke-width="2.1" stroke-linejoin="bevel" stroke-linecap="butt"/>
<polyline points="59.90,502.39 67.00,510.67 74.10,510.67 81.20,512.12 88.30,504.48 95.40,527.09 102.50,522.42 109.60,517.49 116.70,526.52 123.80,521.98 130.90,505.49 138.00,475.61 145.10,494.18 152.20,521.41 159.30,521.41 166.40,518.31 173.50,520.71 180.60,518.63 187.70,520.71 194.80,510.73 201.90,502.21 209.00,492.92 216.10,498.60 223.20,501.70 230.30,502.58" fill="none" stroke="#66c8fa" stroke-width="2.1" stroke-linejoin="bevel" stroke-linecap="butt"/>
<polyline points="59.90,506.50 67.00,527.79 74.10,524.50 81.20,536.00 88.30,539.47 95.40,541.62 102.50,536.82 109.60,531.70 116.70,540.11 123.80,538.08 130.90,521.98 138.00,484.90 145.10,492.92 152.20,524.00 159.30,524.00 166.40,522.80 173.50,525.01 180.60,521.41 187.70,522.80 194.80,527.79 201.90,522.10 209.00,520.71 216.10,530.00 223.20,526.40 230.30,506.37" fill="none" stroke="#ff2010" stroke-width="2.1" stroke-linejoin="bevel" stroke-linecap="butt"/>
<path d="M59.90,422.70V417.30M59.90,578.00V583.40M67.00,422.70V419.30M67.00,578.00V581.40M74.10,422.70V419.30M74.10,578.00V581.40M81.20,422.70V419.30M81.20,578.00V581.40M88.30,422.70V417.30M88.30,578.00V583.40M95.40,422.70V419.30M95.40,578.00V581.40M102.50,422.70V419.30M102.50,578.00V581.40M109.60,422.70V419.30M109.60,578.00V581.40M116.70,422.70V417.30M116.70,578.00V583.40M123.80,422.70V419.30M123.80,578.00V581.40M130.90,422.70V419.30M130.90,578.00V581.40M138.00,422.70V419.30M138.00,578.00V581.40M145.10,422.70V417.30M145.10,578.00V583.40M152.20,422.70V419.30M152.20,578.00V581.40M159.30,422.70V419.30M159.30,578.00V581.40M166.40,422.70V419.30M166.40,578.00V581.40M173.50,422.70V417.30M173.50,578.00V583.40M180.60,422.70V419.30M180.60,578.00V581.40M187.70,422.70V419.30M187.70,578.00V581.40M194.80,422.70V419.30M194.80,578.00V581.40M201.90,422.70V417.30M201.90,578.00V583.40M209.00,422.70V419.30M209.00,578.00V581.40M216.10,422.70V419.30M216.10,578.00V581.40M223.20,422.70V419.30M223.20,578.00V581.40M230.30,422.70V417.30M230.30,578.00V583.40M58.00,576.30H52.60M232.30,576.30H237.70M58.00,563.67H54.60M232.30,563.67H235.70M58.00,551.03H52.60M232.30,551.03H237.70M58.00,538.40H54.60M232.30,538.40H235.70M58.00,525.77H52.60M232.30,525.77H237.70M58.00,513.13H54.60M232.30,513.13H235.70M58.00,500.50H52.60M232.30,500.50H237.70M58.00,487.87H54.60M232.30,487.87H235.70M58.00,475.23H52.60M232.30,475.23H237.70M58.00,462.60H54.60M232.30,462.60H235.70M58.00,449.97H52.60M232.30,449.97H237.70M58.00,437.33H54.60M232.30,437.33H235.70M58.00,424.70H52.60M232.30,424.70H237.70" stroke="#111" stroke-width="1.3" fill="none"/>
<rect x="58.00" y="422.70" width="174.30" height="155.30" fill="none" stroke="#111" stroke-width="1.6"/>
<text x="50.20" y="582.30" text-anchor="end" font-family='"Liberation Serif", serif' font-weight="bold" font-size="17.5">0</text>
<text x="50.20" y="557.03" text-anchor="end" font-family='"Liberation Serif", serif' font-weight="bold" font-size="17.5">4</text>
<text x="50.20" y="531.77" text-anchor="end" font-family='"Liberation Serif", serif' font-weight="bold" font-size="17.5">8</text>
<text x="50.20" y="506.50" text-anchor="end" font-family='"Liberation Serif", serif' font-weight="bold" font-size="17.5">12</text>
<text x="50.20" y="481.23" text-anchor="end" font-family='"Liberation Serif", serif' font-weight="bold" font-size="17.5">16</text>
<text x="50.20" y="455.97" text-anchor="end" font-family='"Liberation Serif", serif' font-weight="bold" font-size="17.5">20</text>
<text x="50.20" y="430.70" text-anchor="end" font-family='"Liberation Serif", serif' font-weight="bold" font-size="17.5">24</text>
<text x="59.90" y="601.90" text-anchor="middle" font-family='"Liberation Serif", serif' font-weight="bold" font-size="17.5">0</text>
<text x="88.30" y="601.90" text-anchor="middle" font-family='"Liberation Serif", serif' font-weight="bold" font-size="17.5">4</text>
<text x="116.70" y="601.90" text-anchor="middle" font-family='"Liberation Serif", serif' font-weight="bold" font-size="17.5">8</text>
<text x="145.10" y="601.90" text-anchor="middle" font-family='"Liberation Serif", serif' font-weight="bold" font-size="17.5">12</text>
<text x="173.50" y="601.90" text-anchor="middle" font-family='"Liberation Serif", serif' font-weight="bold" font-size="17.5">16</text>
<text x="201.90" y="601.90" text-anchor="middle" font-family='"Liberation Serif", serif' font-weight="bold" font-size="17.5">20</text>
<text x="230.30" y="601.90" text-anchor="middle" font-family='"Liberation Serif", serif' font-weight="bold" font-size="17.5">24</text>
<polyline points="281.00,514.71 288.10,517.14 295.20,521.79 302.30,524.62 309.40,517.94 316.50,523.91 323.60,528.46 330.70,528.46 337.80,525.33 344.90,508.94 352.00,484.67 359.10,466.87 366.20,480.32 373.30,490.84 380.40,482.04 387.50,486.80 394.60,500.04 401.70,496.10 408.80,497.52 415.90,505.20 423.00,506.72 430.10,504.90 437.20,507.02 444.30,515.92 451.40,515.01" fill="none" stroke="#58a51f" stroke-width="2.1" stroke-linejoin="bevel" stroke-linecap="butt"/>
<polyline points="281.00,483.26 288.10,488.01 295.20,497.52 302.30,477.19 309.40,478.00 316.50,493.27 323.60,490.44 330.70,487.10 337.80,482.85 344.90,486.59 352.00,475.47 359.10,460.91 366.20,480.83 373.30,486.90 380.40,472.94 387.50,479.72 394.60,492.46 401.70,489.73 408.80,487.40 415.90,489.73 423.00,476.88 430.10,476.18 437.20,480.42 444.30,486.09 451.40,483.26" fill="none" stroke="#eba42a" stroke-width="2.1" stroke-linejoin="bevel" stroke-linecap="butt"/>
<polyline points="281.00,485.68 288.10,491.85 295.20,487.60 302.30,488.31 309.40,478.30 316.50,491.85 323.60,485.18 330.70,491.55 337.80,486.09 344.90,491.55 352.00,477.59 359.10,462.12 366.20,480.83 373.30,486.90 380.40,476.48 387.50,479.01 394.60,492.56 401.70,488.41 408.80,486.09 415.90,488.31 423.00,466.57 430.10,482.85 437.20,482.55 444.30,488.01 451.40,485.38" fill="none" stroke="#9933ff" stroke-width="2.1" stroke-linejoin="bevel" stroke-linecap="butt"/>
<polyline points="281.00,502.27 288.10,498.93 295.20,502.27 302.30,505.10 309.40,509.35 316.50,509.65 323.60,505.71 330.70,507.53 337.80,502.57 344.90,493.27 352.00,477.59 359.10,463.84 366.20,481.23 373.30,486.39 380.40,477.29 387.50,470.92 394.60,492.76 401.70,487.60 408.80,487.10 415.90,494.28 423.00,486.19 430.10,491.25 437.20,498.02 444.30,506.42 451.40,504.60" fill="none" stroke="#3322ff" stroke-width="2.1" stroke-linejoin="bevel" stroke-linecap="butt"/>
<polyline points="281.00,503.69 288.10,508.94 295.20,522.50 302.30,519.66 309.40,518.96 316.50,522.50 323.60,520.37 330.70,515.72 337.80,511.78 344.90,506.82 352.00,485.38 359.10,466.27 366.20,479.72 373.30,489.22 380.40,478.91 387.50,476.18 394.60,494.79 401.70,491.85 408.80,490.84 415.90,497.52 423.00,493.77 430.10,499.84 437.20,498.53 444.30,506.42 451.40,504.60" fill="none" stroke="#66c8fa" stroke-width="2.1" stroke-linejoin="bevel" stroke-linecap="butt"/>
<polyline points="281.00,502.27 288.10,513.19 295.20,523.20 302.30,523.91 309.40,520.78 316.50,524.62 323.60,520.37 330.70,517.94 337.80,517.14 344.90,513.19 352.00,501.86 359.10,469.10 366.20,472.94 373.30,487.60 380.40,486.39 387.50,481.23 394.60,502.67 401.70,491.85 408.80,488.31 415.90,502.57 423.00,501.76 430.10,501.06 437.20,501.76 444.30,508.94 451.40,502.67" fill="none" stroke="#ff2010" stroke-width="2.1" stroke-linejoin="bevel" stroke-linecap="butt"/>
<path d="M281.00,422.70V417.30M281.00,578.00V583.40M288.10,422.70V419.30M288.10,578.00V581.40M295.20,422.70V419.30M295.20,578.00V581.40M302.30,422.70V419.30M302.30,578.00V581.40M309.40,422.70V417.30M309.40,578.00V583.40M316.50,422.70V419.30M316.50,578.00V581.40M323.60,422.70V419.30M323.60,578.00V581.40M330.70,422.70V419.30M330.70,578.00V581.40M337.80,422.70V417.30M337.80,578.00V583.40M344.90,422.70V419.30M344.90,578.00V581.40M352.00,422.70V419.30M352.00,578.00V581.40M359.10,422.70V419.30M359.10,578.00V581.40M366.20,422.70V417.30M366.20,578.00V583.40M373.30,422.70V419.30M373.30,578.00V581.40M380.40,422.70V419.30M380.40,578.00V581.40M387.50,422.70V419.30M387.50,578.00V581.40M394.60,422.70V417.30M394.60,578.00V583.40M401.70,422.70V419.30M401.70,578.00V581.40M408.80,422.70V419.30M408.80,578.00V581.40M415.90,422.70V419.30M415.90,578.00V581.40M423.00,422.70V417.30M423.00,578.00V583.40M430.10,422.70V419.30M430.10,578.00V581.40M437.20,422.70V419.30M437.20,578.00V581.40M444.30,422.70V419.30M444.30,578.00V581.40M451.40,422.70V417.30M451.40,578.00V583.40M279.10,576.40H273.70M453.40,576.40H458.80M279.10,566.29H275.70M453.40,566.29H456.80M279.10,556.17H275.70M453.40,556.17H456.80M279.10,546.06H273.70M453.40,546.06H458.80M279.10,535.95H275.70M453.40,535.95H456.80M279.10,525.83H275.70M453.40,525.83H456.80M279.10,515.72H273.70M453.40,515.72H458.80M279.10,505.61H275.70M453.40,505.61H456.80M279.10,495.49H275.70M453.40,495.49H456.80M279.10,485.38H273.70M453.40,485.38H458.80M279.10,475.27H275.70M453.40,475.27H456.80M279.10,465.15H275.70M453.40,465.15H456.80M279.10,455.04H273.70M453.40,455.04H458.80M279.10,444.93H275.70M453.40,444.93H456.80M279.10,434.81H275.70M453.40,434.81H456.80M279.10,424.70H273.70M453.40,424.70H458.80" stroke="#111" stroke-width="1.3" fill="none"/>
<rect x="279.10" y="422.70" width="174.30" height="155.30" fill="none" stroke="#111" stroke-width="1.6"/>
<text x="271.30" y="582.40" text-anchor="end" font-family='"Liberation Serif", serif' font-weight="bold" font-size="17.5">0</text>
<text x="271.30" y="552.06" text-anchor="end" font-family='"Liberation Serif", serif' font-weight="bold" font-size="17.5">3</text>
<text x="271.30" y="521.72" text-anchor="end" font-family='"Liberation Serif", serif' font-weight="bold" font-size="17.5">6</text>
<text x="271.30" y="491.38" text-anchor="end" font-family='"Liberation Serif", serif' font-weight="bold" font-size="17.5">9</text>
<text x="271.30" y="461.04" text-anchor="end" font-family='"Liberation Serif", serif' font-weight="bold" font-size="17.5">12</text>
<text x="271.30" y="430.70" text-anchor="end" font-family='"Liberation Serif", serif' font-weight="bold" font-size="17.5">15</text>
<text x="281.00" y="601.90" text-anchor="middle" font-family='"Liberation Serif", serif' font-weight="bold" font-size="17.5">0</text>
<text x="309.40" y="601.90" text-anchor="middle" font-family='"Liberation Serif", serif' font-weight="bold" font-size="17.5">4</text>
<text x="337.80" y="601.90" text-anchor="middle" font-family='"Liberation Serif", serif' font-weight="bold" font-size="17.5">8</text>
<text x="366.20" y="601.90" text-anchor="middle" font-family='"Liberation Serif", serif' font-weight="bold" font-size="17.5">12</text>
<text x="394.60" y="601.90" text-anchor="middle" font-family='"Liberation Serif", serif' font-weight="bold" font-size="17.5">16</text>
<text x="423.00" y="601.90" text-anchor="middle" font-family='"Liberation Serif", serif' font-weight="bold" font-size="17.5">20</text>
<text x="451.40" y="601.90" text-anchor="middle" font-family='"Liberation Serif", serif' font-weight="bold" font-size="17.5">24</text>
<polyline points="506.10,523.81 513.20,521.79 520.30,526.59 527.40,534.94 534.50,534.68 541.60,541.76 548.70,543.28 555.80,544.80 562.90,541.76 570.00,530.38 577.10,519.26 584.20,491.70 591.30,491.95 598.40,503.84 605.50,477.79 612.60,476.78 619.70,484.12 626.80,491.70 633.90,503.08 641.00,503.08 648.10,505.10 655.20,507.88 662.30,513.19 669.40,520.78 676.50,524.57" fill="none" stroke="#58a51f" stroke-width="2.1" stroke-linejoin="bevel" stroke-linecap="butt"/>
<polyline points="506.10,514.71 513.20,512.69 520.30,513.70 527.40,520.02 534.50,522.55 541.60,528.11 548.70,526.09 555.80,525.07 562.90,523.30 570.00,520.52 577.10,515.21 584.20,491.70 591.30,487.91 598.40,499.29 605.50,473.24 612.60,470.46 619.70,481.59 626.80,489.17 633.90,504.34 641.00,498.02 648.10,491.45 655.20,495.49 662.30,504.34 669.40,512.69 676.50,514.46" fill="none" stroke="#eba42a" stroke-width="2.1" stroke-linejoin="bevel" stroke-linecap="butt"/>
<polyline points="506.10,521.28 513.20,518.25 520.30,518.00 527.40,521.79 534.50,525.07 541.60,531.40 548.70,527.35 555.80,529.12 562.90,527.10 570.00,522.55 577.10,517.24 584.20,490.44 591.30,488.41 598.40,499.54 605.50,475.27 612.60,469.70 619.70,480.83 626.80,489.17 633.90,505.86 641.00,499.54 648.10,493.22 655.20,501.56 662.30,509.90 669.40,520.27 676.50,522.80" fill="none" stroke="#9933ff" stroke-width="2.1" stroke-linejoin="bevel" stroke-linecap="butt"/>
<polyline points="506.10,526.84 513.20,530.13 520.30,527.86 527.40,536.45 534.50,538.22 541.60,541.00 548.70,539.99 555.80,538.73 562.90,538.22 570.00,533.67 577.10,521.79 584.20,490.44 591.30,487.15 598.40,498.78 605.50,476.03 612.60,462.37 619.70,478.05 626.80,487.91 633.90,503.08 641.00,497.52 648.10,494.73 655.20,503.08 662.30,512.18 669.40,523.81 676.50,526.34" fill="none" stroke="#3322ff" stroke-width="2.1" stroke-linejoin="bevel" stroke-linecap="butt"/>
<polyline points="506.10,523.30 513.20,527.86 520.30,529.88 527.40,533.92 534.50,532.15 541.60,538.98 548.70,538.98 555.80,537.72 562.90,538.22 570.00,534.43 577.10,519.51 584.20,492.21 591.30,489.17 598.40,499.29 605.50,482.85 612.60,474.00 619.70,482.85 626.80,488.41 633.90,502.32 641.00,496.50 648.10,503.84 655.20,508.64 662.30,514.20 669.40,521.79 676.50,522.80" fill="none" stroke="#66c8fa" stroke-width="2.1" stroke-linejoin="bevel" stroke-linecap="butt"/>
<polyline points="506.10,511.93 513.20,523.30 520.30,525.07 527.40,535.69 534.50,536.45 541.60,538.22 548.70,537.97 555.80,537.97 562.90,540.24 570.00,537.97 577.10,525.07 584.20,498.27 591.30,488.41 598.40,503.08 605.50,489.93 612.60,480.83 619.70,487.15 626.80,492.71 633.90,503.08 641.00,508.64 648.10,511.42 655.20,514.20 662.30,516.98 669.40,521.79 676.50,512.18" fill="none" stroke="#ff2010" stroke-width="2.1" stroke-linejoin="bevel" stroke-linecap="butt"/>
<path d="M506.10,422.70V417.30M506.10,578.00V583.40M513.20,422.70V419.30M513.20,578.00V581.40M520.30,422.70V419.30M520.30,578.00V581.40M527.40,422.70V419.30M527.40,578.00V581.40M534.50,422.70V417.30M534.50,578.00V583.40M541.60,422.70V419.30M541.60,578.00V581.40M548.70,422.70V419.30M548.70,578.00V581.40M555.80,422.70V419.30M555.80,578.00V581.40M562.90,422.70V417.30M562.90,578.00V583.40M570.00,422.70V419.30M570.00,578.00V581.40M577.10,422.70V419.30M577.10,578.00V581.40M584.20,422.70V419.30M584.20,578.00V581.40M591.30,422.70V417.30M591.30,578.00V583.40M598.40,422.70V419.30M598.40,578.00V581.40M605.50,422.70V419.30M605.50,578.00V581.40M612.60,422.70V419.30M612.60,578.00V581.40M619.70,422.70V417.30M619.70,578.00V583.40M626.80,422.70V419.30M626.80,578.00V581.40M633.90,422.70V419.30M633.90,578.00V581.40M641.00,422.70V419.30M641.00,578.00V581.40M648.10,422.70V417.30M648.10,578.00V583.40M655.20,422.70V419.30M655.20,578.00V581.40M662.30,422.70V419.30M662.30,578.00V581.40M669.40,422.70V419.30M669.40,578.00V581.40M676.50,422.70V417.30M676.50,578.00V583.40M504.10,576.40H498.70M678.40,576.40H683.80M504.10,563.76H500.70M678.40,563.76H681.80M504.10,551.12H498.70M678.40,551.12H683.80M504.10,538.48H500.70M678.40,538.48H681.80M504.10,525.83H498.70M678.40,525.83H683.80M504.10,513.19H500.70M678.40,513.19H681.80M504.10,500.55H498.70M678.40,500.55H683.80M504.10,487.91H500.70M678.40,487.91H681.80M504.10,475.27H498.70M678.40,475.27H683.80M504.10,462.62H500.70M678.40,462.62H681.80M504.10,449.98H498.70M678.40,449.98H683.80M504.10,437.34H500.70M678.40,437.34H681.80M504.10,424.70H498.70M678.40,424.70H683.80" stroke="#111" stroke-width="1.3" fill="none"/>
<rect x="504.10" y="422.70" width="174.30" height="155.30" fill="none" stroke="#111" stroke-width="1.6"/>
<text x="496.30" y="582.40" text-anchor="end" font-family='"Liberation Serif", serif' font-weight="bold" font-size="17.5">0.0</text>
<text x="496.30" y="557.12" text-anchor="end" font-family='"Liberation Serif", serif' font-weight="bold" font-size="17.5">0.1</text>
<text x="496.30" y="531.83" text-anchor="end" font-family='"Liberation Serif", serif' font-weight="bold" font-size="17.5">0.2</text>
<text x="496.30" y="506.55" text-anchor="end" font-family='"Liberation Serif", serif' font-weight="bold" font-size="17.5">0.3</text>
<text x="496.30" y="481.27" text-anchor="end" font-family='"Liberation Serif", serif' font-weight="bold" font-size="17.5">0.4</text>
<text x="496.30" y="455.98" text-anchor="end" font-family='"Liberation Serif", serif' font-weight="bold" font-size="17.5">0.5</text>
<text x="496.30" y="430.70" text-anchor="end" font-family='"Liberation Serif", serif' font-weight="bold" font-size="17.5">0.6</text>
<text x="506.10" y="601.90" text-anchor="middle" font-family='"Liberation Serif", serif' font-weight="bold" font-size="17.5">0</text>
<text x="534.50" y="601.90" text-anchor="middle" font-family='"Liberation Serif", serif' font-weight="bold" font-size="17.5">4</text>
<text x="562.90" y="601.90" text-anchor="middle" font-family='"Liberation Serif", serif' font-weight="bold" font-size="17.5">8</text>
<text x="591.30" y="601.90" text-anchor="middle" font-family='"Liberation Serif", serif' font-weight="bold" font-size="17.5">12</text>
<text x="619.70" y="601.90" text-anchor="middle" font-family='"Liberation Serif", serif' font-weight="bold" font-size="17.5">16</text>
<text x="648.10" y="601.90" text-anchor="middle" font-family='"Liberation Serif", serif' font-weight="bold" font-size="17.5">20</text>
<text x="676.50" y="601.90" text-anchor="middle" font-family='"Liberation Serif", serif' font-weight="bold" font-size="17.5">24</text>
<text x="65.40" y="70.00" font-family='"Liberation Serif", serif' font-weight="bold" font-size="24">(a)</text>
<text x="346.20" y="70.00" font-family='"Liberation Serif", serif' font-weight="bold" font-size="24">(b)</text>
<text x="513.40" y="70.00" font-family='"Liberation Serif", serif' font-weight="bold" font-size="24">(c)</text>
<text x="64.20" y="378.50" font-family='"Liberation Serif", serif' font-weight="bold" font-size="24">(d)</text>
<text x="341.90" y="261.00" font-family='"Liberation Serif", serif' font-weight="bold" font-size="24">(e)</text>
<text x="513.30" y="261.00" font-family='"Liberation Serif", serif' font-weight="bold" font-size="24">(f)</text>
<text x="65.00" y="568.00" font-family='"Liberation Serif", serif' font-weight="bold" font-size="24">(g)</text>
<text x="290.10" y="567.00" font-family='"Liberation Serif", serif' font-weight="bold" font-size="24">(h)</text>
<text x="513.30" y="454.00" font-family='"Liberation Serif", serif' font-weight="bold" font-size="24">(i)</text>
<text x="403.50" y="66.50" font-family='"Liberation Serif", serif' font-weight="bold" font-size="20">NOx</text>
<text x="642.70" y="66.50" font-family='"Liberation Serif", serif' font-weight="bold" font-size="20">Ox</text>
<text x="106.60" y="256.50" font-family='"Liberation Serif", serif' font-weight="bold" font-size="20">Benzene</text>
<text x="377.00" y="257.00" font-family='"Liberation Serif", serif' font-weight="bold" font-size="20">Toluene</text>
<text x="546.40" y="256.00" font-family='"Liberation Serif", serif' font-weight="bold" font-size="20">Monoterpenes</text>
<text x="154.00" y="448.00" font-family='"Liberation Serif", serif' font-weight="bold" font-size="20">Ethanol</text>
<text x="318.40" y="446.50" font-family='"Liberation Serif", serif' font-weight="bold" font-size="20">Formaldehyde</text>
<text x="559.20" y="449.60" font-family='"Liberation Serif", serif' font-weight="bold" font-size="18.5">MVK+MACR</text>
<text x="199.5" y="67.0" font-family='"Liberation Serif", serif' font-weight="bold" font-size="20">O<tspan font-size="14" dy="4.8">3</tspan></text>
<text x="371" y="626.0" text-anchor="middle" font-family='"Liberation Serif", serif' font-weight="bold" font-size="21">Hour of day</text>
<text transform="translate(15.8,305.6) rotate(-90)" text-anchor="middle" font-family='"Liberation Serif", serif' font-weight="bold" font-size="21.3">Mixing ratios (ppbv)</text>
<rect x="81.2" y="1.1" width="582.20" height="27.00" fill="#fff" stroke="#111" stroke-width="1.4"/>
<line x1="87.30" y1="15.5" x2="121.60" y2="15.5" stroke="#58a51f" stroke-width="2"/>
<text x="129.20" y="21.0" font-family='"Liberation Serif", serif' font-weight="bold" font-size="18">5 m</text>
<line x1="185.00" y1="15.5" x2="219.30" y2="15.5" stroke="#eba42a" stroke-width="2"/>
<text x="226.90" y="21.0" font-family='"Liberation Serif", serif' font-weight="bold" font-size="18">40 m</text>
<line x1="282.30" y1="15.5" x2="316.60" y2="15.5" stroke="#9933ff" stroke-width="2"/>
<text x="324.20" y="21.0" font-family='"Liberation Serif", serif' font-weight="bold" font-size="18">70 m</text>
<line x1="371.10" y1="15.5" x2="405.40" y2="15.5" stroke="#3322ff" stroke-width="2"/>
<text x="413.00" y="21.0" font-family='"Liberation Serif", serif' font-weight="bold" font-size="18">120 m</text>
<line x1="468.90" y1="15.5" x2="503.20" y2="15.5" stroke="#66c8fa" stroke-width="2"/>
<text x="510.80" y="21.0" font-family='"Liberation Serif", serif' font-weight="bold" font-size="18">220 m</text>
<line x1="566.50" y1="15.5" x2="600.80" y2="15.5" stroke="#ff2010" stroke-width="2"/>
<text x="608.40" y="21.0" font-family='"Liberation Serif", serif' font-weight="bold" font-size="18">335 m</text>
</svg>
</body></html>
